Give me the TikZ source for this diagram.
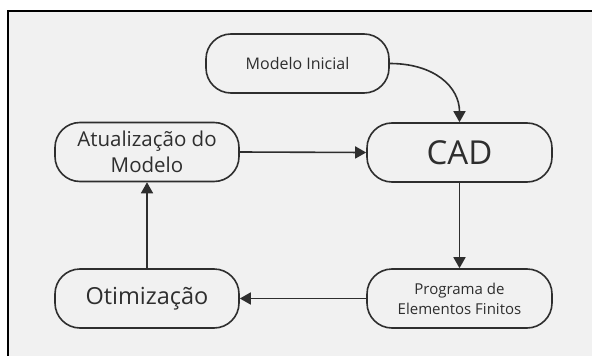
\documentclass[tikz,border=0pt]{standalone}
\usepackage{fontspec}
\setmainfont{Open Sans}
\usetikzlibrary{arrows.meta}
\definecolor{bggray}{HTML}{F1F1F1}
\definecolor{ink}{HTML}{2E2E2E}
\begin{document}
\begin{tikzpicture}[x=1pt,y=-1pt,
  proc/.style={draw=ink, line width=1.6pt, rounded corners=25pt, minimum height=59pt, align=center, text=ink, inner sep=0pt, font=\fontsize{16}{19}\selectfont},
  flow/.style={draw=ink, line width=1.6pt, -{Triangle[length=11pt,width=12pt]}}]
\useasboundingbox (0,0) rectangle (592,356);
\clip (0,0) rectangle (592,356);
\fill[white] (0,0) rectangle (592,356);
\draw[fill=bggray, draw=black, line width=2.5pt] (8,11) rectangle (605,370);
\node[proc, minimum width=183pt] (mi) at (297.5,63.5) {Modelo Inicial};
\node[proc, minimum width=184pt, font=\fontsize{20.5}{26}\selectfont] (at) at (147,152) {Atualização do\\Modelo};
\node[proc, minimum width=185pt, font=\fontsize{33}{36}\selectfont] (cad) at (459.5,152.5) {CAD};
\node[proc, minimum width=184pt, font=\fontsize{23.5}{27}\selectfont] (ot) at (147,298.5) {Otimização};
\node[proc, minimum width=185pt, font=\fontsize{15}{20}\selectfont] (pe) at (459.5,298.5) {Programa de\\Elementos Finitos};
\draw[flow] (mi.east) .. controls +(45,0) and +(0,-35) .. (cad.north);
\draw[flow] (at.east) -- (cad.west);
\draw[flow] (cad.south) -- (pe.north);
\draw[flow] (pe.west) -- (ot.east);
\draw[flow] (ot.north) -- (at.south);
\end{tikzpicture}
\end{document}
